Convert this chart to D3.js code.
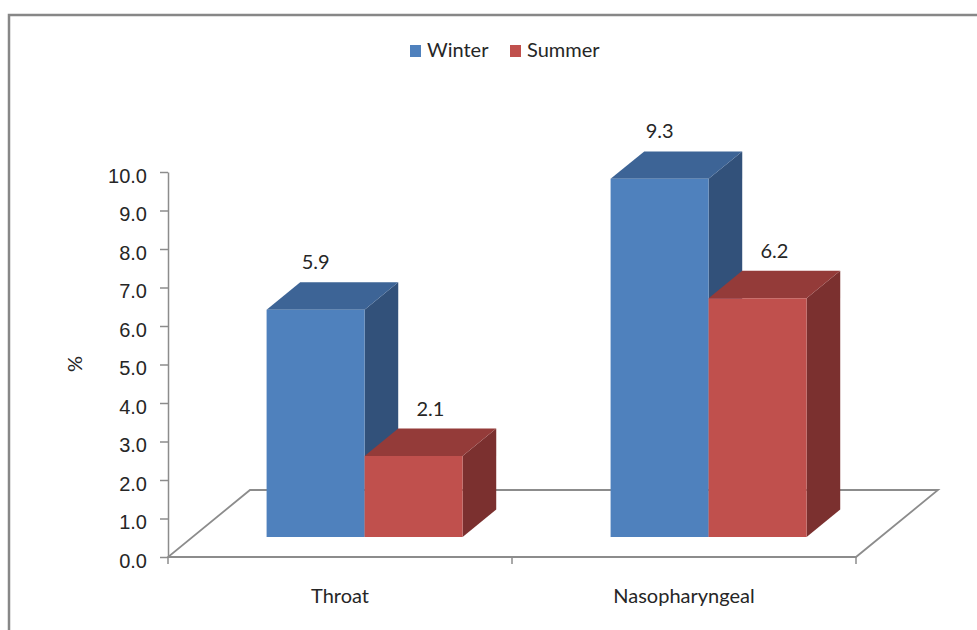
<!DOCTYPE html>
<html>
<head>
<meta charset="utf-8">
<script src="https://cdn.jsdelivr.net/npm/d3@7"></script>
<style>
  html, body { margin: 0; padding: 0; background: #fff; }
  svg { display: block; font-family: Lato, "Open Sans", sans-serif; }
  .axis text { font-size: 20px; fill: #262626; }
  .axis path, .axis line { stroke: #8c8c8c; stroke-width: 1.5; }
</style>
</head>
<body>
<svg id="chart" width="977" height="630"></svg>
<script>
// chart data
const categories = ["Throat", "Nasopharyngeal"];
const seriesNames = ["Winter", "Summer"];
const winterValues = [5.9, 9.3];
const summerValues = [2.1, 6.2];
const yTicks = [0, 1, 2, 3, 4, 5, 6, 7, 8, 9, 10];

const colors = {
    Winter: { front: "#4f81bd", top: "#3d6496", side: "#32517a" },
    Summer: { front: "#c0504d", top: "#943b39", side: "#7b302f" }
};

const svg = d3.select("#chart");

// frame border (runs off the right and bottom edges)
svg.append("rect")
    .attr("x", 9).attr("y", 15)
    .attr("width", 1000).attr("height", 700)
    .attr("fill", "none")
    .attr("stroke", "#878787")
    .attr("stroke-width", 2.5);

// oblique 3D: full floor depth shifts a point by (DX, DY)
const DX = 82, DY = -67;
const barDepth = [0.3, 0.71];

const x = d3.scaleBand().domain(categories).range([168, 856]);
const xs = d3.scaleBand().domain(seriesNames).range([0, x.bandwidth()]).paddingOuter(0.755);
const y = d3.scaleLinear().domain([0, 10]).range([557, 172]);

const proj = (px, v, d) => [px + d * DX, y(v) + d * DY];

// floor outline
const floorPts = [proj(168, 0, 0), proj(856, 0, 0), proj(856, 0, 1), proj(168, 0, 1)];
svg.append("path")
    .attr("d", d3.line()(floorPts) + "Z")
    .attr("fill", "none")
    .attr("stroke", "#8c8c8c")
    .attr("stroke-width", 1.8);

// ticks along the front floor edge
const edgeTicks = categories.map(c => x(c)).concat([x.range()[1]]);
svg.selectAll(".edge-tick")
    .data(edgeTicks)
    .enter().append("line")
    .attr("class", "edge-tick")
    .attr("x1", d => d).attr("x2", d => d)
    .attr("y1", y(0)).attr("y2", y(0) + 7)
    .attr("stroke", "#8c8c8c")
    .attr("stroke-width", 1.5);

// y axis
const yAxis = svg.append("g")
    .attr("class", "axis")
    .attr("transform", "translate(168,0)")
    .call(d3.axisLeft(y).tickValues(yTicks).tickFormat(d3.format(".1f")).tickSize(8).tickSizeOuter(0).tickPadding(13));
yAxis.selectAll("text").attr("dy", "0.5em");

svg.append("text")
    .attr("transform", "translate(82,364) rotate(-90)")
    .attr("text-anchor", "middle")
    .attr("font-size", 20)
    .attr("fill", "#262626")
    .text("%");

// bars
const rows = [];
categories.forEach((c, i) => {
    rows.push({ cat: c, series: "Winter", value: winterValues[i] });
    rows.push({ cat: c, series: "Summer", value: summerValues[i] });
});

const [d0, d1] = barDepth;
const bars = svg.selectAll(".bar")
    .data(rows)
    .enter().append("g")
    .attr("class", "bar");

bars.each(function (d) {
    const g = d3.select(this);
    const x0 = x(d.cat) + xs(d.series);
    const x1 = x0 + xs.bandwidth();
    const v = d.value;
    const col = colors[d.series];
    const poly = pts => d3.line()(pts) + "Z";

    g.append("path")
        .attr("d", poly([proj(x1, 0, d0), proj(x1, 0, d1), proj(x1, v, d1), proj(x1, v, d0)]))
        .attr("fill", col.side);
    g.append("path")
        .attr("d", poly([proj(x0, v, d0), proj(x1, v, d0), proj(x1, v, d1), proj(x0, v, d1)]))
        .attr("fill", col.top);
    g.append("path")
        .attr("d", poly([proj(x0, 0, d0), proj(x1, 0, d0), proj(x1, v, d0), proj(x0, v, d0)]))
        .attr("fill", col.front);

    const frontMid = (x0 + x1) / 2 + d0 * DX;
    const topMid = (x0 + x1) / 2 + (d0 + d1) / 2 * DX;
    g.append("text")
        .attr("x", d.series === "Winter" ? frontMid : topMid)
        .attr("y", proj(x0, v, d1)[1] - 13)
        .attr("text-anchor", "middle")
        .attr("font-size", 20)
        .attr("fill", "#262626")
        .text(d3.format(".1f")(v));
});

// category labels
svg.selectAll(".cat-label")
    .data(categories)
    .enter().append("text")
    .attr("class", "cat-label")
    .attr("x", d => x(d) + x.bandwidth() / 2)
    .attr("y", 603)
    .attr("text-anchor", "middle")
    .attr("font-size", 20)
    .attr("fill", "#262626")
    .text(d => d);

// legend
const legendX = [410, 510];
const legend = svg.selectAll(".legend")
    .data(seriesNames)
    .enter().append("g")
    .attr("class", "legend")
    .attr("transform", (d, i) => `translate(${legendX[i]},45)`);
legend.append("rect")
    .attr("width", 11).attr("height", 12)
    .attr("fill", d => colors[d].front);
legend.append("text")
    .attr("x", 17).attr("y", 12)
    .attr("font-size", 20)
    .attr("fill", "#262626")
    .text(d => d);
</script>
</body>
</html>
